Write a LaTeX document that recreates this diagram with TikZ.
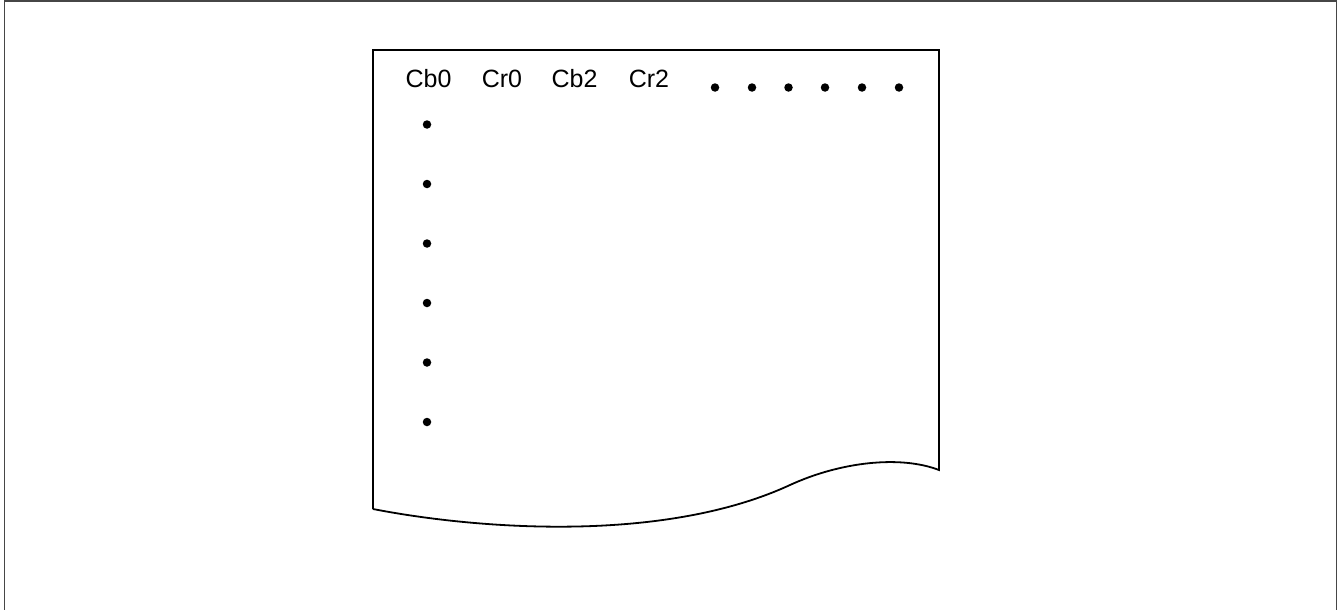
\documentclass[tikz,border=0pt]{standalone}
\usepackage{fontspec}
\setmainfont{Liberation Sans}
\definecolor{framegray}{RGB}{70,70,70}
\begin{document}
\begin{tikzpicture}[x=1pt,y=-1pt,
  lbl/.style={anchor=base,inner sep=0pt,font=\fontsize{25}{30}\selectfont},
  dotnode/.style={circle,fill=black,inner sep=0pt,minimum size=8.5pt},
  docline/.style={line width=1.8pt,black,line join=miter},
  frameline/.style={line width=1.6pt,framegray}]
\useasboundingbox (0,0) rectangle (1341,610);
% outer frame (bottom edge not shown)
\draw[frameline] (4.5,612) -- (4.5,1) -- (1336.5,1) -- (1336.5,612);
% document shape
\coordinate (tl) at (373,50);
\coordinate (tr) at (939,50);
\coordinate (br) at (939,470);
\coordinate (mid) at (790,485);
\coordinate (bl) at (373,509);
\draw[docline] (bl) -- (tl) -- (tr) -- (br)
  .. controls (900,455) and (840,462) .. (mid)
  .. controls (660,545) and (470,528) .. (bl);
% labels
\node[lbl] (cb0) at (428.5,87) {Cb0};
\node[lbl] (cr0) at (502,87) {Cr0};
\node[lbl] (cb2) at (574.5,87) {Cb2};
\node[lbl] (cr2) at (649,87) {Cr2};
% top row dots
\node[dotnode] (t1) at (715,87.5) {};
\node[dotnode] (t2) at (752,87.5) {};
\node[dotnode] (t3) at (788.5,87.5) {};
\node[dotnode] (t4) at (825,87.5) {};
\node[dotnode] (t5) at (862,87.5) {};
\node[dotnode] (t6) at (899,87.5) {};
% left column dots
\node[dotnode] (l1) at (427,124.5) {};
\node[dotnode] (l2) at (427,184) {};
\node[dotnode] (l3) at (427,243.5) {};
\node[dotnode] (l4) at (427,303) {};
\node[dotnode] (l5) at (427,362.5) {};
\node[dotnode] (l6) at (427,422) {};
\end{tikzpicture}
\end{document}
